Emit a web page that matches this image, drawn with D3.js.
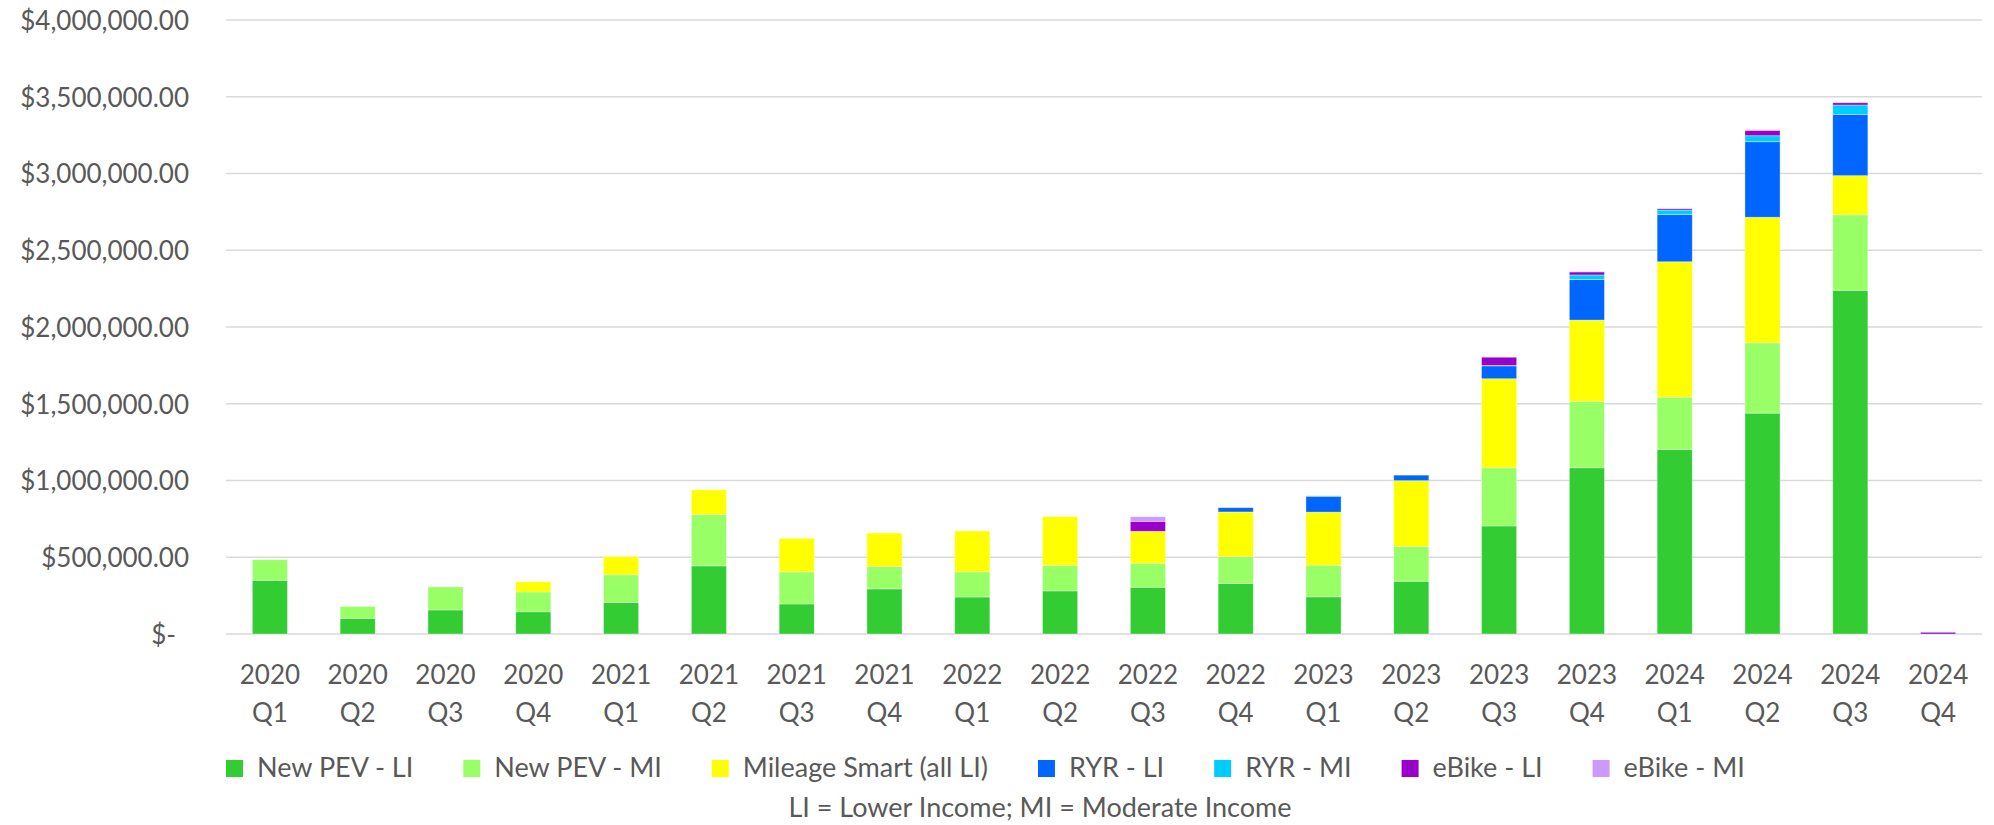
<!DOCTYPE html>
<html>
<head>
<meta charset="utf-8">
<script src="https://cdn.jsdelivr.net/npm/d3@7"></script>
<style>
  body { margin: 0; background: #fff; }
  text { font-family: Lato, "Open Sans", sans-serif; fill: #595959; }
</style>
</head>
<body>
<svg width="1994" height="825"></svg>
<script>
var quarters = ["2020 Q1","2020 Q2","2020 Q3","2020 Q4","2021 Q1","2021 Q2","2021 Q3","2021 Q4",
  "2022 Q1","2022 Q2","2022 Q3","2022 Q4","2023 Q1","2023 Q2","2023 Q3","2023 Q4",
  "2024 Q1","2024 Q2","2024 Q3","2024 Q4"];

var seriesNames = ["New PEV - LI","New PEV - MI","Mileage Smart (all LI)","RYR - LI","RYR - MI","eBike - LI","eBike - MI"];
var colors = ["#33CC33","#99FF66","#FFFF00","#0066FF","#00CCFF","#9900CC","#CC99FF"];

var newPevLI = [350000,102000,157000,145000,205000,444000,196000,294000,241000,281000,305000,329000,242000,344000,704000,1083000,1203000,1439000,2239000,0];
var newPevMI = [134000,77000,150000,129000,181000,334000,209000,146000,164000,166000,156000,176000,206000,226000,379000,433000,340000,458000,492000,0];
var mileageSmart = [0,0,0,66000,119000,161000,218000,218000,266000,318000,208000,290000,346000,429000,580000,529000,882000,818000,255000,0];
var ryrLI = [0,0,0,0,0,0,0,0,0,0,0,28000,103000,36000,84000,264000,307000,492000,399000,0];
var ryrMI = [0,0,0,0,0,0,0,0,0,0,0,0,3000,0,3000,30000,30000,39000,61000,0];
var ebikeLI = [0,0,0,0,0,0,0,0,0,0,65000,0,0,0,53000,20000,9000,35000,15000,11000];
var ebikeMI = [0,0,0,0,0,0,0,0,0,0,30000,0,0,0,0,2000,2000,4000,0,0];

var yTicks = [0,500000,1000000,1500000,2000000,2500000,3000000,3500000,4000000];

var seriesValues = [newPevLI,newPevMI,mileageSmart,ryrLI,ryrMI,ebikeLI,ebikeMI];

// table for d3.stack
var table = quarters.map(function(q, i) {
  var row = {quarter: q};
  seriesNames.forEach(function(s, j) { row[s] = seriesValues[j][i]; });
  return row;
});

var svg = d3.select("svg"),
    margin = {top: 20, right: 12, bottom: 191, left: 226},
    width = +svg.attr("width") - margin.left - margin.right,
    height = +svg.attr("height") - margin.top - margin.bottom;

var x = d3.scaleBand().domain(quarters).range([0, width]).paddingInner(0.6).paddingOuter(0.3);
var y = d3.scaleLinear().domain([0, 4000000]).range([height, 0]);

var g = svg.append("g")
    .attr("transform", "translate(" + margin.left + "," + margin.top + ")");

// gridlines
g.append("g")
  .selectAll("line")
  .data(yTicks)
  .enter().append("line")
    .attr("x1", 0)
    .attr("x2", width)
    .attr("y1", function(d) { return y(d); })
    .attr("y2", function(d) { return y(d); })
    .attr("stroke", "#D9D9D9")
    .attr("stroke-width", 1.3);

// y axis labels
var fmt = d3.format(",.2f");
var yAxis = g.append("g")
    .call(d3.axisLeft(y).tickValues(yTicks).tickSize(0).tickPadding(37)
      .tickFormat(function(d) { return d === 0 ? "$-" : "$" + fmt(d); }));
yAxis.select(".domain").remove();
yAxis.selectAll("text")
    .style("font-size", "26px")
    .attr("fill", "#595959")
    .attr("dy", "0.36em")
    .style("font-family", "Lato, sans-serif");
yAxis.selectAll(".tick").filter(function(d) { return d === 0; })
    .select("text").attr("dx", -13);

// stacked bars
var stack = d3.stack().keys(seriesNames);
var layers = stack(table);

g.selectAll(".layer")
  .data(layers)
  .enter().append("g")
    .attr("class", "layer")
    .attr("fill", function(d, i) { return colors[i]; })
  .selectAll("rect")
  .data(function(d) { return d; })
  .enter().append("rect")
    .filter(function(d) { return d[1] - d[0] > 0; })
    .attr("x", function(d) { return x(d.data.quarter); })
    .attr("width", x.bandwidth())
    .attr("y", function(d) { return y(d[1]); })
    .attr("height", function(d) { return y(d[0]) - y(d[1]); })
    .attr("stroke", "#fff")
    .attr("stroke-opacity", 0.45)
    .attr("stroke-width", 0.8);

// x axis labels (two lines)
var xl = g.append("g")
  .selectAll("text")
  .data(quarters)
  .enter().append("text")
    .attr("text-anchor", "middle")
    .attr("x", function(d) { return x(d) + x.bandwidth() / 2; })
    .attr("y", height + 50)
    .style("font-size", "26px");
xl.append("tspan")
    .attr("x", function(d) { return x(d) + x.bandwidth() / 2; })
    .text(function(d) { return d.split(" ")[0]; });
xl.append("tspan")
    .attr("x", function(d) { return x(d) + x.bandwidth() / 2; })
    .attr("dy", 38)
    .text(function(d) { return d.split(" ")[1]; });

// legend
var legend = svg.append("g").attr("transform", "translate(226,760)");
var lx = 0;
seriesNames.forEach(function(name, i) {
  var item = legend.append("g").attr("transform", "translate(" + lx + ",0)");
  item.append("rect")
      .attr("width", 17)
      .attr("height", 17)
      .attr("fill", colors[i]);
  var t = item.append("text")
      .attr("x", 31)
      .attr("y", 17)
      .style("font-size", "27px")
      .text(name);
  lx += 31 + t.node().getComputedTextLength() + 50;
});

svg.append("text")
    .attr("x", 1040)
    .attr("y", 817)
    .attr("text-anchor", "middle")
    .style("font-size", "27px")
    .text("LI = Lower Income; MI = Moderate Income");
</script>
</body>
</html>
